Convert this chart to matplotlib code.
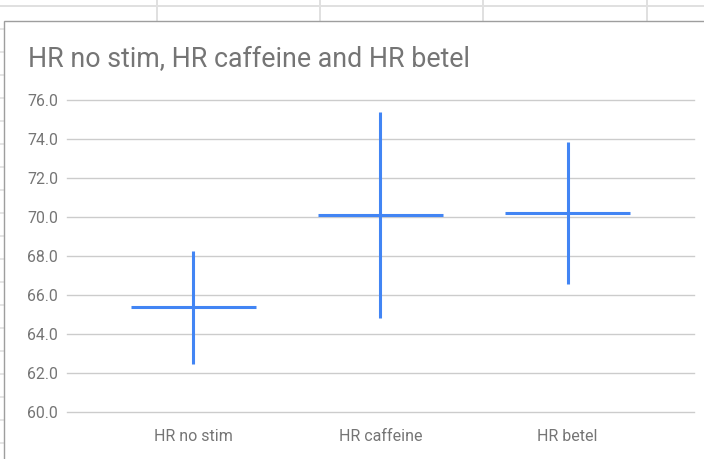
import matplotlib
matplotlib.use("Agg")
import matplotlib.pyplot as plt
from matplotlib.lines import Line2D
from matplotlib.patches import Rectangle

categories = ["HR no stim", "HR caffeine", "HR betel"]
mean_values = [65.35, 70.06, 70.16]
high_values = [68.22, 75.34, 73.82]
low_values = [62.44, 64.81, 66.52]
y_ticks = [60, 62, 64, 66, 68, 70, 72, 74, 76]
title = "HR no stim, HR caffeine and HR betel"

W, H = 704, 460
fig = plt.figure(figsize=(W / 100, H / 100), dpi=100)
fig.patch.set_facecolor("white")

def fx(px):
    return px / W

def fy(py):
    return 1 - py / H

# spreadsheet background lines
grid_c = "#e0e0e0"
fig.add_artist(Line2D([0, 1], [fy(6.5), fy(6.5)], color=grid_c, lw=1.4,
                      transform=fig.transFigure, zorder=-5))
for vx in [156.5, 320, 483, 647]:
    fig.add_artist(Line2D([fx(vx), fx(vx)], [fy(0), fy(22)], color=grid_c, lw=1.4,
                          transform=fig.transFigure, zorder=-5))
for ry in range(30, 460, 23):
    fig.add_artist(Line2D([fx(0), fx(4)], [fy(ry), fy(ry)], color=grid_c, lw=1.2,
                          transform=fig.transFigure, zorder=-5))

# chart card
fig.add_artist(Rectangle((fx(4), fy(470)), fx(720), fy(21.7) - fy(470), transform=fig.transFigure,
                         facecolor="white", edgecolor="#9e9e9e", lw=1.0, zorder=-4))

# axes
ax_left, ax_right = 67, 694
ax_top, ax_bot = 100.5, 412.5
ax = fig.add_axes([fx(ax_left), fy(ax_bot), fx(ax_right - ax_left), fy(ax_top) - fy(ax_bot)])
ax.set_zorder(2)
ax.set_facecolor("none")
ax.set_ylim(60, 76)
px_per_unit = 187.1
x0_px = 193.3
ax.set_xlim((ax_left - x0_px) / px_per_unit, (ax_right - x0_px) / px_per_unit)
for s in ax.spines.values():
    s.set_visible(False)

ax.set_yticks(y_ticks)
ax.set_yticklabels([f"{v:.1f}" for v in y_ticks])
ax.tick_params(axis="y", length=0, pad=6.5, labelsize=11.4, labelcolor="#757575")
ax.yaxis.grid(True, color="#cccccc", lw=1.0)
for gl in ax.get_ygridlines():
    gl.set_clip_on(False)
ax.set_axisbelow(True)

x = list(range(len(categories)))
half = 0.335
blue = "#4285f4"
ax.vlines(x, low_values, high_values, color=blue, lw=2.2, zorder=3)
ax.hlines(mean_values, [xi - half for xi in x], [xi + half for xi in x], color=blue, lw=2.2, zorder=3)

ax.set_xticks(x)
ax.set_xticklabels(categories)
ax.tick_params(axis="x", length=0, pad=12, labelsize=11.5, labelcolor="#757575")
for lab in ax.get_yticklabels() + ax.get_xticklabels():
    lab.set_fontfamily("Roboto")

fig.text(fx(28), fy(67.3), title, fontsize=19.3, color="#757575", fontfamily="Roboto",
         ha="left", va="baseline")

fig.savefig("out.png", dpi=100, facecolor="white")
